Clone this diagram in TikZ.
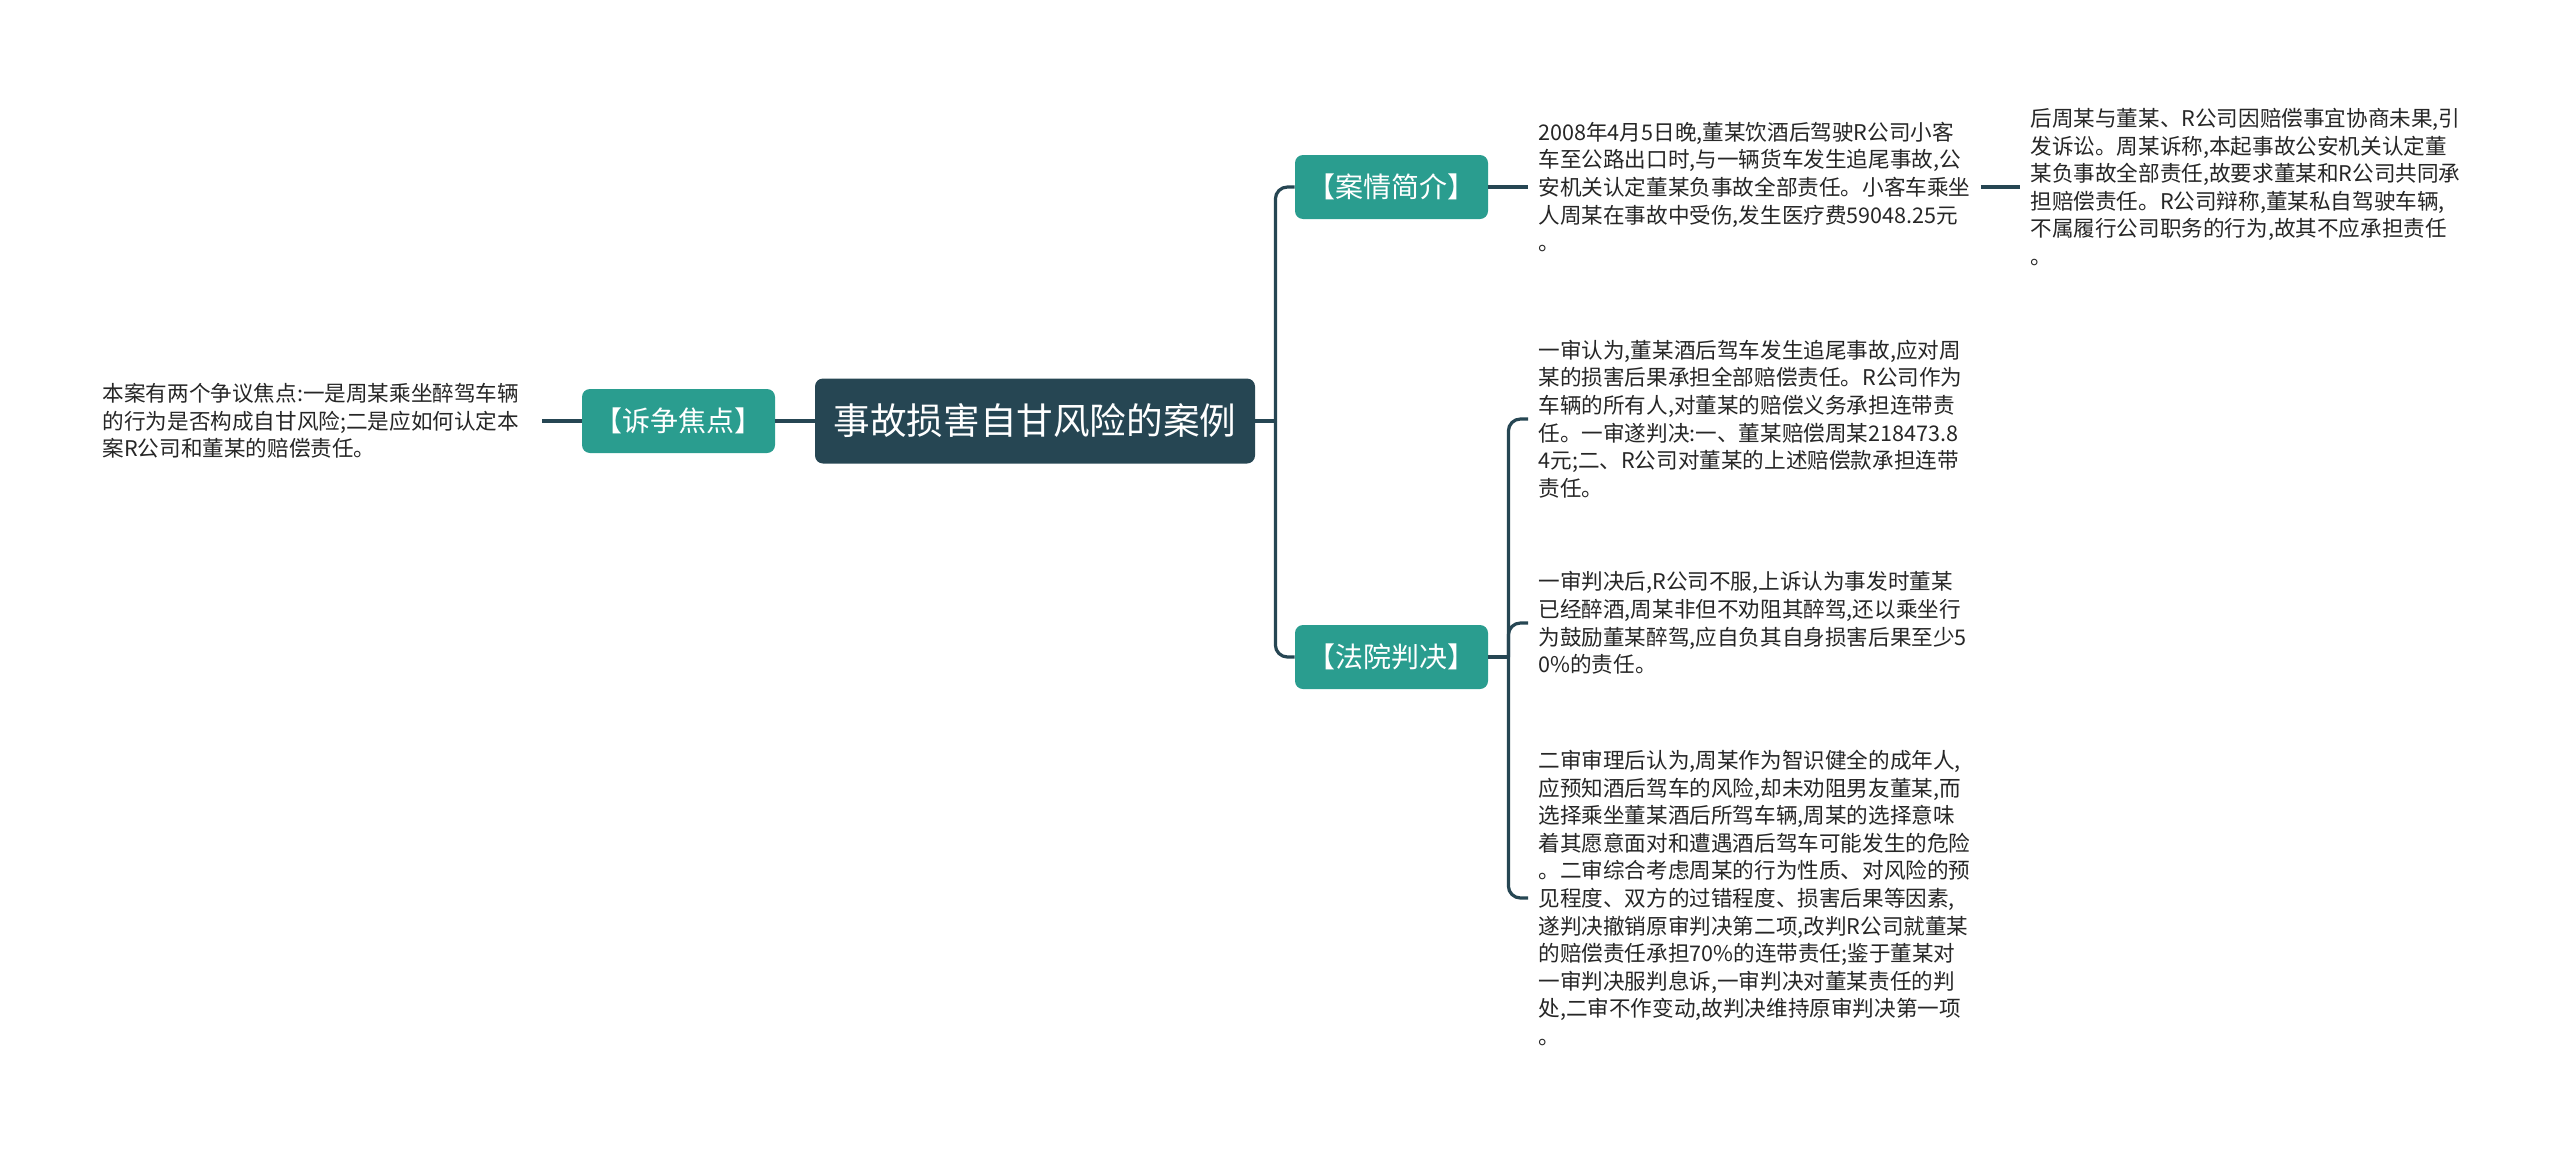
\documentclass[tikz,border=0pt]{standalone}
\usepackage{fontspec}
\setmainfont{Noto Sans CJK SC}
\usepackage{xcolor}
\usetikzlibrary{positioning}
\definecolor{rootfill}{HTML}{264653}
\definecolor{topicfill}{HTML}{2A9D8F}
\definecolor{linkcol}{HTML}{264653}
\definecolor{txtcol}{HTML}{262626}

\begin{document}
\begin{tikzpicture}[
  x=0.5pt, y=-0.5pt,
  root/.style={fill=rootfill, text=white, rounded corners=4pt, minimum width=220pt, minimum height=42.5pt, font=\fontsize{18.3}{22}\selectfont},
  topic/.style={fill=topicfill, text=white, rounded corners=4pt, minimum width=96.5pt, minimum height=32pt, font=\fontsize{14}{17}\selectfont},
  leaf/.style={align=left, text width=216pt, inner xsep=5pt, inner ysep=2pt, text=txtcol, font=\fontsize{10.8}{13.8}\selectfont},
  link/.style={draw=linkcol, line width=1.6pt},
  branch/.style={link, rounded corners=6pt}
]
\useasboundingbox (0,0) rectangle (2560,1151);

\node[root] (root) at (1035,421) {事故损害自甘风险的案例};
\node[topic] (focus) at (678.5,421) {【诉争焦点】};
\node[topic] (case) at (1391.5,187) {【案情简介】};
\node[topic] (court) at (1391.5,657) {【法院判决】};

\node[leaf, anchor=east, text width=214.5pt] (focustxt) at (542,421) {本案有两个争议焦点:一是周某乘坐醉驾车辆\\的行为是否构成自甘风险;二是应如何认定本\\案R公司和董某的赔偿责任。};

\node[leaf, anchor=west] (casetxt) at (1528,187) {2008年4月5日晚,董某饮酒后驾驶R公司小客\\车至公路出口时,与一辆货车发生追尾事故,公\\安机关认定董某负事故全部责任。小客车乘坐\\人周某在事故中受伤,发生医疗费59048.25元\\。};
\node[leaf, anchor=west] (suittxt) at (2020,187) {后周某与董某、R公司因赔偿事宜协商未果,引\\发诉讼。周某诉称,本起事故公安机关认定董\\某负事故全部责任,故要求董某和R公司共同承\\担赔偿责任。R公司辩称,董某私自驾驶车辆,\\不属履行公司职务的行为,故其不应承担责任\\。};

\node[leaf, anchor=west] (first) at (1528,419) {一审认为,董某酒后驾车发生追尾事故,应对周\\某的损害后果承担全部赔偿责任。R公司作为\\车辆的所有人,对董某的赔偿义务承担连带责\\任。一审遂判决:一、董某赔偿周某218473.8\\4元;二、R公司对董某的上述赔偿款承担连带\\责任。};
\node[leaf, anchor=west] (appeal) at (1528,623) {一审判决后,R公司不服,上诉认为事发时董某\\已经醉酒,周某非但不劝阻其醉驾,还以乘坐行\\为鼓励董某醉驾,应自负其自身损害后果至少5\\0\%的责任。};
\node[leaf, anchor=west] (second) at (1528,898) {二审审理后认为,周某作为智识健全的成年人,\\应预知酒后驾车的风险,却未劝阻男友董某,而\\选择乘坐董某酒后所驾车辆,周某的选择意味\\着其愿意面对和遭遇酒后驾车可能发生的危险\\。二审综合考虑周某的行为性质、对风险的预\\见程度、双方的过错程度、损害后果等因素,\\遂判决撤销原审判决第二项,改判R公司就董某\\的赔偿责任承担70\%的连带责任;鉴于董某对\\一审判决服判息诉,一审判决对董某责任的判\\处,二审不作变动,故判决维持原审判决第一项\\。};

\coordinate[right=10pt of root] (j1);
\coordinate[right=10pt of court] (j2);

\draw[link] (focustxt) -- (focus);
\draw[link] (focus) -- (root);
\draw[link] (root) -- (j1);
\draw[branch] (j1) |- (case);
\draw[branch] (j1) |- (court);
\draw[link] (case) -- (casetxt);
\draw[link] (casetxt) -- (suittxt);
\draw[link] (court) -- (j2);
\draw[branch] (j2) |- (first.west);
\draw[branch] (j2) |- (appeal.west);
\draw[branch] (j2) |- (second.west);
\end{tikzpicture}
\end{document}
